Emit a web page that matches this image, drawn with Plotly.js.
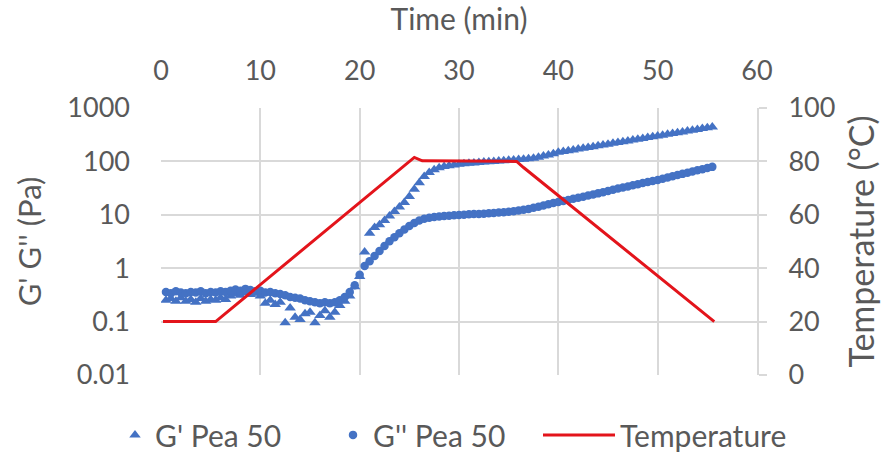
<!DOCTYPE html>
<html>
<head>
<meta charset="utf-8">
<script src="https://cdn.plot.ly/plotly-3.0.1.min.js"></script>
<style>html,body{margin:0;padding:0;background:#fff;}#chart{width:884px;height:453px;}</style>
</head>
<body>
<div id="chart"></div>
<script>
// Time (min) for the rheology readings
const time = [0.5,1.0,1.5,2.0,2.5,3.0,3.5,4.0,4.5,5.0,5.5,6.0,6.5,7.0,7.5,8.0,8.5,9.0,9.5,10.0,
  10.5,11.0,11.5,12.0,12.5,13.0,13.5,14.0,14.5,15.0,15.5,16.0,16.5,17.0,17.5,18.0,18.5,19.0,19.5,20.0,
  20.5,21.0,21.5,22.0,22.5,23.0,23.5,24.0,24.5,25.0,25.5,26.0,26.5,27.0,27.5,28.0,28.5,29.0,29.5,30.0,
  30.5,31.0,31.5,32.0,32.5,33.0,33.5,34.0,34.5,35.0,35.5,36.0,36.5,37.0,37.5,38.0,38.5,39.0,39.5,40.0,
  40.5,41.0,41.5,42.0,42.5,43.0,43.5,44.0,44.5,45.0,45.5,46.0,46.5,47.0,47.5,48.0,48.5,49.0,49.5,50.0,
  50.5,51.0,51.5,52.0,52.5,53.0,53.5,54.0,54.5,55.0,55.5];

// G' Pea 50 (Pa)
const gPrime = [0.25,0.27,0.24,0.28,0.24,0.26,0.23,0.27,0.24,0.26,0.25,0.28,0.26,0.30,0.33,0.31,0.35,0.32,0.34,0.30,
  0.22,0.25,0.21,0.23,0.095,0.18,0.12,0.11,0.14,0.15,0.095,0.13,0.16,0.12,0.15,0.20,0.24,0.30,0.45,0.70,
  2.0,4.5,5.8,6.5,7.8,9.5,11.5,14,17,22,30,40,52,62,70,76,80,83,86,88,
  90,92,93,95,97,99,100,102,103,105,106,108,110,112,115,120,126,132,139,148,
  153,159,164,170,176,183,189,196,203,210,218,225,234,242,251,260,269,279,289,299,
  310,321,332,344,357,370,383,397,411,426,441];

// G'' Pea 50 (Pa)
const gDouble = [0.36,0.34,0.37,0.35,0.34,0.36,0.35,0.37,0.34,0.36,0.35,0.37,0.36,0.38,0.40,0.38,0.41,0.39,0.37,0.38,
  0.35,0.36,0.34,0.33,0.31,0.29,0.28,0.27,0.25,0.24,0.23,0.22,0.23,0.22,0.23,0.25,0.29,0.36,0.48,0.75,
  1.1,1.35,1.7,2.1,2.6,3.2,3.8,4.5,5.3,6.2,7.0,7.8,8.4,8.8,9.1,9.3,9.5,9.6,9.8,9.9,
  10.0,10.2,10.3,10.4,10.5,10.7,10.8,11.0,11.2,11.4,11.7,12.0,12.4,12.9,13.5,14.2,15.0,15.8,16.6,17.4,
  18.2,19.0,19.9,20.8,21.8,22.9,24.0,25.2,26.5,28.0,29.4,31.0,32.5,34.0,35.8,37.5,39.3,41.1,43.0,45.0,
  47.4,50.0,52.7,55.5,58.4,61.5,64.7,68.0,71.4,75.0,79.0];

// Temperature profile (°C) at its break points
const tempTime = [0.2,5.5,25.5,26.3,35.8,36.5,55.7];
const temperature = [20,20,81.5,80.2,80,77.7,20];

const yTickVals = [0.01,0.1,1,10,100,1000];
const yTickText = ['0.01','0.1','1','10','100','1000'];

const FONT = 'Lato, "Open Sans", sans-serif';
const TXT = '#595959';
const GRID = '#d9d9d9';
const BLUE = '#4472C4';
const RED = '#E3141B';

const traces = [
  {x: time, y: gPrime, type: 'scatter', mode: 'markers', name: "G' Pea 50", legend: 'legend',
   marker: {symbol: 'triangle-up', size: 10, color: BLUE}, yaxis: 'y'},
  {x: time, y: gDouble, type: 'scatter', mode: 'markers', name: "G'' Pea 50", legend: 'legend2',
   marker: {symbol: 'circle', size: 8.5, color: BLUE}, yaxis: 'y'},
  {x: tempTime, y: temperature, type: 'scatter', mode: 'lines', name: 'Temperature', legend: 'legend3',
   line: {color: RED, width: 3}, yaxis: 'y2'}
];

function legendAt(px, itemW) {
  return {orientation: 'h', x: px / 884, xanchor: 'left', xref: 'container',
          y: 0.04, yref: 'container', yanchor: 'middle', bgcolor: 'rgba(0,0,0,0)',
          borderwidth: 0, font: {size: 30, color: TXT}, itemwidth: itemW};
}

const layout = {
  width: 884, height: 453,
  margin: {l: 161, r: 127, t: 108, b: 78, autoexpand: false},
  paper_bgcolor: '#fff', plot_bgcolor: '#fff',
  font: {family: FONT, color: TXT, size: 27},
  showlegend: true,
  legend: legendAt(115, 30),
  legend2: legendAt(333, 30),
  legend3: legendAt(538, 72),
  xaxis: {side: 'top', range: [0, 60], tickvals: [0,10,20,30,40,50,60], showgrid: true,
          gridcolor: GRID, gridwidth: 2, zeroline: false, showline: false, ticks: '',
          automargin: false, tickfont: {size: 27, color: TXT}, ticklabelstandoff: 22,
          title: {text: 'Time (min)', font: {size: 30, color: TXT}, standoff: 27}},
  yaxis: {type: 'log', range: [-2, 3], tickvals: yTickVals, ticktext: yTickText,
          showgrid: true, gridcolor: GRID, gridwidth: 2, zeroline: false, showline: false,
          automargin: false, ticks: '', tickfont: {size: 27, color: TXT}, ticklabelstandoff: 30,
          title: {text: "G' G'' (Pa)", font: {size: 31, color: TXT}, standoff: 16}},
  yaxis2: {overlaying: 'y', side: 'right', range: [0, 100], tickvals: [0,20,40,60,80,100],
           showgrid: false, zeroline: false, showline: true, linecolor: GRID, linewidth: 2,
           automargin: false, ticks: 'outside', ticklen: 8, tickcolor: GRID, tickwidth: 2,
           tickfont: {size: 27, color: TXT}, ticklabelstandoff: 16,
           title: {text: 'Temperature (°C)', font: {size: 34, color: TXT}, standoff: 16}}
};

Plotly.newPlot('chart', traces, layout, {displayModeBar: false, staticPlot: true});
</script>
</body>
</html>
